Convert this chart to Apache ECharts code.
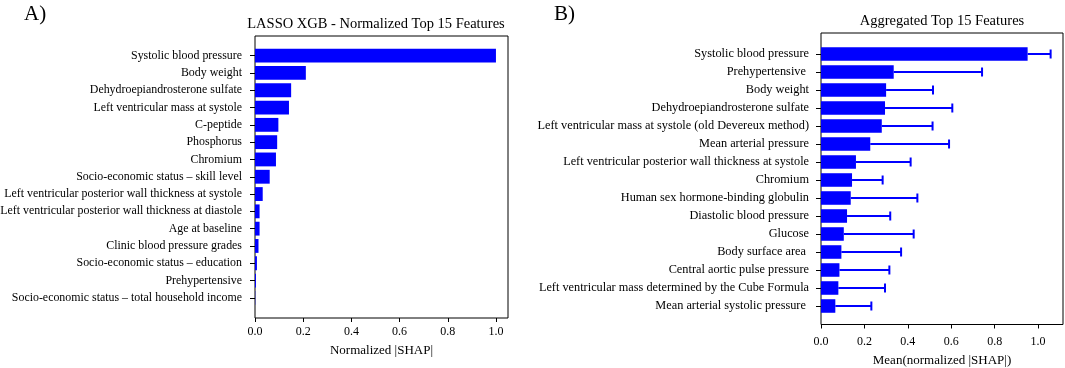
<!DOCTYPE html>
<html>
<head>
<meta charset="utf-8">
<script src="https://cdn.jsdelivr.net/npm/echarts@6/dist/echarts.min.js"></script>
<style>
  html, body { margin: 0; padding: 0; background: #fff; }
  #chart { width: 1065px; height: 368px; }
</style>
</head>
<body>
<div id="chart"></div>
<script>
// Panel A: LASSO XGB normalized SHAP
const lassoFeatures = [
  "Systolic blood pressure",
  "Body weight",
  "Dehydroepiandrosterone sulfate",
  "Left ventricular mass at systole",
  "C-peptide",
  "Phosphorus",
  "Chromium",
  "Socio-economic status \u2013 skill level",
  "Left ventricular posterior wall thickness at systole",
  "Left ventricular posterior wall thickness at diastole",
  "Age at baseline",
  "Clinic blood pressure grades",
  "Socio-economic status \u2013 education",
  "Prehypertensive",
  "Socio-economic status \u2013 total household income"
];
const lassoShap = [1.0, 0.211, 0.150, 0.141, 0.097, 0.092, 0.087, 0.061, 0.032, 0.019, 0.019, 0.0145, 0.008, 0.004, 0.001];

// Panel B: aggregated mean normalized SHAP with upper error
const aggFeatures = [
  "Systolic blood pressure",
  "Prehypertensive ",
  "Body weight",
  "Dehydroepiandrosterone sulfate",
  "Left ventricular mass at systole (old Devereux method)",
  "Mean arterial pressure",
  "Left ventricular posterior wall thickness at systole",
  "Chromium",
  "Human sex hormone-binding globulin",
  "Diastolic blood pressure",
  "Glucose",
  "Body surface area ",
  "Central aortic pulse pressure",
  "Left ventricular mass determined by the Cube Formula",
  "Mean arterial systolic pressure "
];
const aggMean = [0.952, 0.335, 0.300, 0.295, 0.280, 0.227, 0.161, 0.143, 0.137, 0.120, 0.105, 0.094, 0.085, 0.080, 0.066];
const aggUpper = [1.058, 0.742, 0.516, 0.605, 0.514, 0.590, 0.413, 0.284, 0.444, 0.319, 0.427, 0.369, 0.315, 0.295, 0.232];

const FONT = "Liberation Serif";
const BLUE = "#0000ff";

const chart = echarts.init(document.getElementById("chart"));

const catAxis = (gridIndex, data, fontSize, margin) => ({
  type: "category",
  gridIndex,
  data,
  inverse: true,
  axisLine: { show: false },
  axisTick: { show: true, alignWithLabel: true, length: 5, lineStyle: { color: "#000" } },
  axisLabel: { color: "#000", fontFamily: FONT, fontSize, margin },
  splitLine: { show: false }
});

const hiddenValue = (gridIndex, max) => ({
  type: "value", gridIndex, min: 0, max, show: false
});

const shownValue = (gridIndex, max, name, nameGap, margin) => ({
  type: "value",
  gridIndex,
  min: 0,
  max,
  interval: 0.2,
  name,
  nameLocation: "middle",
  nameGap,
  nameTextStyle: { color: "#000", fontFamily: FONT, fontSize: 13 },
  axisLine: { show: false },
  axisTick: { show: true, length: 4, lineStyle: { color: "#000" } },
  axisLabel: {
    color: "#000", fontFamily: FONT, fontSize: 12, margin,
    formatter: (v) => v.toFixed(1),
    showMaxLabel: false
  },
  splitLine: { show: false }
});

const gridBase = { outerBoundsMode: "none", containLabel: false };
const frameStyle = { show: true, borderColor: "#000", borderWidth: 1, backgroundColor: "transparent" };

const option = {
  animation: false,
  backgroundColor: "#fff",
  title: [
    { text: "A)", left: 19, top: -1, textStyle: { fontFamily: FONT, fontSize: 21, fontWeight: "normal", color: "#000" } },
    { text: "B)", left: 549, top: -1, textStyle: { fontFamily: FONT, fontSize: 21, fontWeight: "normal", color: "#000" } },
    { text: "LASSO XGB - Normalized Top 15 Features", left: 371, top: 12, textAlign: "center",
      textStyle: { fontFamily: FONT, fontSize: 14.5, fontWeight: "normal", color: "#000" } },
    { text: "Aggregated Top 15 Features", left: 937, top: 9, textAlign: "center",
      textStyle: { fontFamily: FONT, fontSize: 14.5, fontWeight: "normal", color: "#000" } }
  ],
  grid: [
    // A: bars
    Object.assign({ left: 255, right: 557, top: 47, bottom: 61.5 }, gridBase),
    // A: frame
    Object.assign({ left: 255, right: 557, top: 36, bottom: 50 }, gridBase, frameStyle),
    // B: bars
    Object.assign({ left: 821, right: 2, top: 45, bottom: 53 }, gridBase),
    // B: frame
    Object.assign({ left: 821, right: 2, top: 33, bottom: 43.5 }, gridBase, frameStyle)
  ],
  xAxis: [
    hiddenValue(0, 1.05),
    shownValue(1, 1.05, "Normalized |SHAP|", 26, 8),
    hiddenValue(2, 1.115),
    shownValue(3, 1.115, "Mean(normalized |SHAP|)", 30, 11)
  ],
  yAxis: [
    catAxis(0, lassoFeatures, 11.9, 13),
    { type: "value", gridIndex: 1, show: false },
    catAxis(2, aggFeatures, 12.3, 12),
    { type: "value", gridIndex: 3, show: false }
  ],
  series: [
    {
      type: "bar",
      xAxisIndex: 0,
      yAxisIndex: 0,
      data: lassoShap,
      barWidth: "80%",
      itemStyle: { color: BLUE }
    },
    {
      type: "bar",
      xAxisIndex: 2,
      yAxisIndex: 2,
      data: aggMean,
      barWidth: "76%",
      itemStyle: { color: BLUE, borderColor: BLUE, borderWidth: 1.5 }
    },
    {
      type: "custom",
      xAxisIndex: 2,
      yAxisIndex: 2,
      data: aggMean.map((m, i) => [i, m, aggUpper[i]]),
      encode: { x: [1, 2], y: 0 },
      renderItem: (params, api) => {
        const cat = api.value(0);
        const start = api.coord([api.value(1), cat]);
        const end = api.coord([api.value(2), cat]);
        const half = 4.5;
        const style = { stroke: BLUE, lineWidth: 2 };
        return {
          type: "group",
          children: [
            { type: "line", shape: { x1: start[0], y1: start[1], x2: end[0], y2: end[1] }, style },
            { type: "line", shape: { x1: end[0], y1: end[1] - half, x2: end[0], y2: end[1] + half }, style }
          ]
        };
      },
      z: 3
    }
  ]
};

chart.setOption(option);
</script>
</body>
</html>
